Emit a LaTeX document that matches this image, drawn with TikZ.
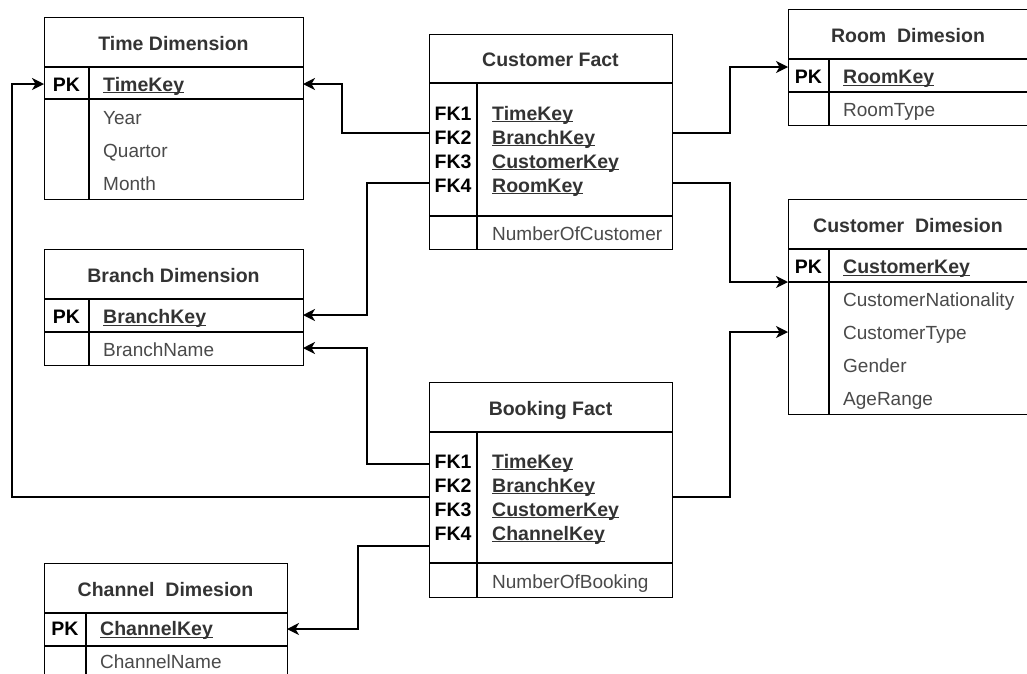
\documentclass[tikz,border=0pt]{standalone}
\usepackage{fontspec}
\setmainfont{Liberation Sans}
\usetikzlibrary{arrows.meta}
\definecolor{ink}{HTML}{333333}
\definecolor{bodytext}{HTML}{4A4A4A}
% key names: underline drawn close to the baseline
\newcommand\ukey[1]{\setbox0\hbox{#1}\rlap{\rule[-2.4pt]{\wd0}{1.1pt}}\box0}

\tikzset{
  tbl/.style={draw, line width=1.4pt, anchor=north west, inner sep=0pt, fill=white},
  sep/.style={line width=1.4pt},
  ttl/.style={font=\fontsize{19.5}{22}\selectfont\bfseries, text=ink, anchor=base, inner sep=0pt},
  tag/.style={font=\fontsize{19.5}{22}\selectfont\bfseries, text=black, anchor=base, inner sep=0pt},
  key/.style={font=\fontsize{19.5}{22}\selectfont\bfseries, text=ink, anchor=base west, inner sep=0pt},
  attr/.style={font=\fontsize{19}{22}\selectfont, text=bodytext, anchor=base west, inner sep=0pt},
  fk/.style={line width=1.4pt, -{Stealth[length=12pt,width=12pt,inset=3.5pt]}},
}

\begin{document}
\begin{tikzpicture}[x=1pt,y=-1pt]
\clip (0,0) rectangle (1027,673);
\fill[white] (0,0) rectangle (1027,673);

% ---------- Time Dimension ----------
\node[tbl, minimum width=259pt, minimum height=182pt] (time) at (44,17) {};
\draw[sep] (44,67) -- (303,67) (44,99) -- (303,99) (89,67) -- (89,199);
\node[ttl] (timeT) at (173.5,50) {Time Dimension};
\node[tag] (timePKt) at (66.5,91) {PK};
\node[key] (timeK) at (103,91) {\ukey{TimeKey}};
\node[attr] (timeA1) at (103,124) {Year};
\node[attr] (timeA2) at (103,157) {Quartor};
\node[attr] (timeA3) at (103,190) {Month};
\coordinate (timeL) at (44,84);
\coordinate (timeR) at (303,84);

% ---------- Branch Dimension ----------
\node[tbl, minimum width=259pt, minimum height=116pt] (branch) at (44,249) {};
\draw[sep] (44,299) -- (303,299) (44,332) -- (303,332) (89,299) -- (89,365);
\node[ttl] (branchT) at (173.5,282) {Branch Dimension};
\node[tag] (branchPKt) at (66.5,323.5) {PK};
\node[key] (branchK) at (103,323.5) {\ukey{BranchKey}};
\node[attr] (branchA1) at (103,356.5) {BranchName};
\coordinate (branchPK) at (303,315);
\coordinate (branchName) at (303,348);

% ---------- Channel Dimesion ----------
\node[tbl, minimum width=243pt, minimum height=120pt] (chan) at (44,563) {};
\draw[sep] (44,613) -- (287,613) (44,646) -- (287,646) (86,613) -- (86,683);
\node[ttl] (chanT) at (165.5,596) {Channel\ \ Dimesion};
\node[tag] (chanPKt) at (65,635.5) {PK};
\node[key] (chanK) at (100,635.5) {\ukey{ChannelKey}};
\node[attr] (chanA1) at (100,668) {ChannelName};
\coordinate (chanPK) at (287,629);

% ---------- Room Dimesion ----------
\node[tbl, minimum width=245pt, minimum height=116pt] (room) at (788,9) {};
\draw[sep] (788,59) -- (1033,59) (788,92) -- (1033,92) (829,59) -- (829,125);
\node[ttl] (roomT) at (908,42) {Room\ \ Dimesion};
\node[tag] (roomPKt) at (808.5,83.5) {PK};
\node[key] (roomK) at (843,83.5) {\ukey{RoomKey}};
\node[attr] (roomA1) at (843,116.5) {RoomType};
\coordinate (roomPK) at (788,67);

% ---------- Customer Dimesion ----------
\node[tbl, minimum width=245pt, minimum height=215pt] (cust) at (788,199) {};
\draw[sep] (788,249) -- (1033,249) (788,282) -- (1033,282) (829,249) -- (829,414);
\node[ttl] (custT) at (908,232) {Customer\ \ Dimesion};
\node[tag] (custPKt) at (808.5,273.5) {PK};
\node[key] (custK) at (843,273.5) {\ukey{CustomerKey}};
\node[attr] (custA1) at (843,306.5) {CustomerNationality};
\node[attr] (custA2) at (843,339.5) {CustomerType};
\node[attr] (custA3) at (843,372.5) {Gender};
\node[attr] (custA4) at (843,405.5) {AgeRange};
\coordinate (custPK) at (788,282);
\coordinate (custType) at (788,332);

% ---------- Customer Fact ----------
\node[tbl, minimum width=243pt, minimum height=215pt] (cf) at (429,34) {};
\draw[sep] (429,83) -- (672,83) (429,216) -- (672,216) (477,83) -- (477,249);
\node[ttl] (cfT) at (550.5,66.5) {Customer Fact};
\node[tag] (cfF1) at (453,120) {FK1};
\node[tag] (cfF2) at (453,144) {FK2};
\node[tag] (cfF3) at (453,168) {FK3};
\node[tag] (cfF4) at (453,192) {FK4};
\node[key] (cfK1) at (492,120) {\ukey{TimeKey}};
\node[key] (cfK2) at (492,144) {\ukey{BranchKey}};
\node[key] (cfK3) at (492,168) {\ukey{CustomerKey}};
\node[key] (cfK4) at (492,192) {\ukey{RoomKey}};
\node[attr] (cfM) at (492,240.5) {NumberOfCustomer};
\coordinate (cfL1) at (429,133);
\coordinate (cfL2) at (429,183);
\coordinate (cfR1) at (672,133);
\coordinate (cfR2) at (672,183);

% ---------- Booking Fact ----------
\node[tbl, minimum width=243pt, minimum height=215pt] (bf) at (429,382) {};
\draw[sep] (429,432) -- (672,432) (429,563) -- (672,563) (477,432) -- (477,597);
\node[ttl] (bfT) at (550.5,415) {Booking Fact};
\node[tag] (bfF1) at (453,468) {FK1};
\node[tag] (bfF2) at (453,492) {FK2};
\node[tag] (bfF3) at (453,516) {FK3};
\node[tag] (bfF4) at (453,540) {FK4};
\node[key] (bfK1) at (492,468) {\ukey{TimeKey}};
\node[key] (bfK2) at (492,492) {\ukey{BranchKey}};
\node[key] (bfK3) at (492,516) {\ukey{CustomerKey}};
\node[key] (bfK4) at (492,540) {\ukey{ChannelKey}};
\node[attr] (bfM) at (492,588) {NumberOfBooking};
\coordinate (bfL1) at (429,464);
\coordinate (bfL2) at (429,497);
\coordinate (bfL3) at (429,546);
\coordinate (bfR) at (672,497);

% ---------- foreign key connectors ----------
\draw[fk] (cfL1) -- (342,133) |- (timeR);
\draw[fk] (cfL2) -- (367,183) |- (branchPK);
\draw[fk] (cfR1) -- (730,133) |- (roomPK);
\draw[fk] (cfR2) -- (730,183) |- (custPK);
\draw[fk] (bfL1) -- (367,464) |- (branchName);
\draw[fk] (bfL2) -- (12,497) |- (timeL);
\draw[fk] (bfL3) -- (358,546) |- (chanPK);
\draw[fk] (bfR) -- (730,497) |- (custType);
\end{tikzpicture}
\end{document}
